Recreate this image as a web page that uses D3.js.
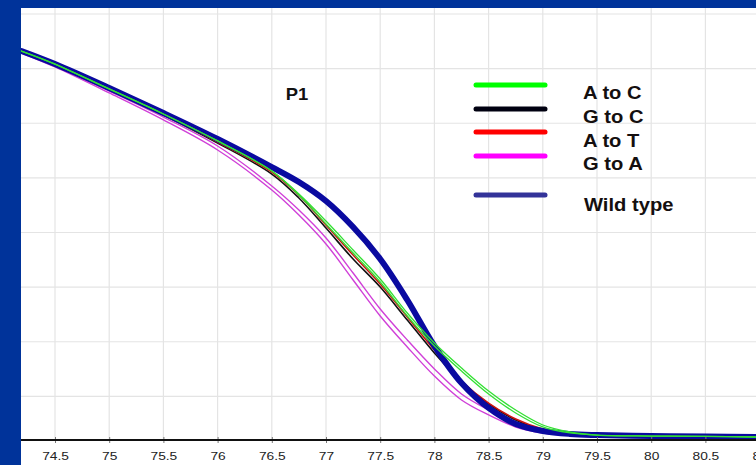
<!DOCTYPE html>
<html><head><meta charset="utf-8">
<script src="https://cdn.jsdelivr.net/npm/d3@7"></script>
<style>
html,body{margin:0;padding:0;background:#00339a;}
svg{display:block}
</style></head><body>
<svg id="c" width="756" height="465"></svg>
<script>
// Temperature (°C) sample points
const temps = [74.19, 74.5, 75, 75.5, 76, 76.5, 76.75, 77, 77.25, 77.5, 77.75, 78, 78.25, 78.5, 78.75, 79, 79.25, 79.5, 80, 80.5, 81];
// Fluorescence readings per series
const wildType = [36.61, 35.42, 33.23, 30.94, 28.56, 25.99, 24.62, 22.88, 20.50, 17.57, 13.82, 9.61, 6.22, 3.94, 2.47, 1.83, 1.56, 1.46, 1.37, 1.33, 1.28];
const aToC1   = [36.61, 35.42, 33.14, 30.85, 28.38, 25.63, 23.52, 21.05, 18.40, 15.74, 12.63, 9.89, 7.60, 5.49, 3.75, 2.38, 1.74, 1.46, 1.37, 1.33, 1.28];
const aToC2   = [36.61, 35.42, 33.14, 30.85, 28.38, 25.63, 23.43, 20.78, 18.12, 15.47, 12.36, 9.61, 7.32, 5.22, 3.48, 2.20, 1.65, 1.46, 1.37, 1.33, 1.28];
const gToC    = [36.61, 35.42, 33.14, 30.76, 28.19, 25.35, 23.16, 20.41, 17.57, 15.01, 11.99, 8.97, 6.32, 4.30, 2.84, 1.92, 1.56, 1.46, 1.37, 1.33, 1.28];
const aToT    = [36.61, 35.42, 33.23, 30.85, 28.29, 25.54, 23.43, 20.69, 17.94, 15.29, 12.27, 9.24, 6.41, 4.39, 2.93, 2.01, 1.56, 1.46, 1.37, 1.33, 1.28];
const gToA1   = [36.52, 35.24, 32.95, 30.57, 27.92, 24.26, 22.06, 19.50, 16.29, 13.00, 10.16, 7.51, 5.22, 3.75, 2.56, 1.83, 1.56, 1.42, 1.37, 1.33, 1.28];
const gToA2   = [36.43, 35.15, 32.77, 30.30, 27.55, 23.89, 21.60, 18.95, 15.65, 12.36, 9.52, 6.86, 4.67, 3.30, 2.20, 1.65, 1.46, 1.37, 1.33, 1.28, 1.28];

const xTicks = [74.5, 75, 75.5, 76, 76.5, 77, 77.5, 78, 78.5, 79, 79.5, 80, 80.5, 81];
const yGrid = [5, 10, 15, 20, 25, 30, 35, 40];

const legendLabels = ["A to C", "G to C", "A to T", "G to A", "Wild type"];
const legendColors = ["#00ff00", "#000010", "#ff0000", "#ff00ff", "#333399"];
const chartTitle = "P1";

const W = 756, H = 465;
const L = 21, T = 8, AX = 440;
const svg = d3.select('#c');
svg.append('rect').attr('width', W).attr('height', H).attr('fill', '#00339a');
svg.append('rect').attr('x', L).attr('y', T).attr('width', W - L).attr('height', H - T).attr('fill', '#fff');

const x = d3.scaleLinear().domain([74.5, 81]).range([55, 759.6]);
const y = d3.scaleLinear().domain([0, 40]).range([451, 14]);

svg.append('defs').append('clipPath').attr('id', 'clip')
  .append('rect').attr('x', L).attr('y', T).attr('width', W - L).attr('height', AX - T);

// grid
const grid = svg.append('g').attr('stroke', '#e4e4e4').attr('stroke-width', 1.2);
grid.selectAll('line.v').data(xTicks).join('line')
  .attr('x1', d => x(d)).attr('x2', d => x(d)).attr('y1', T).attr('y2', AX);
grid.selectAll('line.h').data(yGrid).join('line').attr('class', 'h')
  .attr('x1', L).attr('x2', W).attr('y1', d => y(d)).attr('y2', d => y(d));

// lines
const line = d3.line().x((d, i) => x(temps[i])).y(d => y(d)).curve(d3.curveCatmullRom.alpha(0.5));
const plot = svg.append('g').attr('clip-path', 'url(#clip)').attr('fill', 'none')
  .attr('stroke-linejoin', 'round').attr('stroke-linecap', 'round');
const series = [
  {v: gToA2, c: '#d040d8', w: 1.4},
  {v: gToA1, c: '#d040d8', w: 1.4},
  {v: gToC, c: '#111111', w: 1.6},
  {v: aToT, c: '#cc1111', w: 1.6},
  {v: wildType, c: '#0a0aa0', w: 6},
  {v: aToC1, c: '#33e033', w: 1.3},
  {v: aToC2, c: '#33e033', w: 1.3}
];
plot.selectAll('path').data(series).join('path')
  .attr('d', d => line(d.v)).attr('stroke', d => d.c).attr('stroke-width', d => d.w);

// axis
const axis = svg.append('g').attr('transform', `translate(0,${AX})`)
  .call(d3.axisBottom(x).tickValues(xTicks).tickSize(3).tickFormat(d3.format('')));
axis.select('.domain').remove();
axis.append('line').attr('x1', L).attr('x2', W).attr('stroke', '#111').attr('stroke-width', 2);
axis.selectAll('.tick line').attr('y1', -3).attr('y2', 3).attr('stroke', '#777');
axis.selectAll('.tick text')
  .attr('y', null).attr('dy', null)
  .attr('transform', 'translate(0,20) scale(1.25,1)')
  .attr('fill', '#222').attr('font-family', 'Liberation Sans, Arial, sans-serif').attr('font-size', 11);

// title
svg.append('text').attr('transform', 'translate(297,100) scale(1.15,1)')
  .attr('text-anchor', 'middle').attr('font-family', 'Liberation Sans, Arial, sans-serif')
  .attr('font-weight', 'bold').attr('font-size', 16).attr('fill', '#111').text(chartTitle);

// legend
const legY = [85, 109, 132, 156, 195];
const legTY = [99.3, 123, 146.5, 170, 210.5];
const leg = svg.append('g');
leg.selectAll('line').data(legendLabels).join('line')
  .attr('x1', 476).attr('x2', 545).attr('y1', (d, i) => legY[i]).attr('y2', (d, i) => legY[i])
  .attr('stroke', (d, i) => legendColors[i]).attr('stroke-width', 5).attr('stroke-linecap', 'round');
leg.selectAll('text').data(legendLabels).join('text')
  .attr('transform', (d, i) => `translate(${i === 4 ? 584 : 583},${legTY[i]}) scale(1.12,1)`)
  .attr('font-family', 'Liberation Sans, Arial, sans-serif').attr('font-weight', 'bold')
  .attr('font-size', 18).attr('fill', '#140f0f').text(d => d);
</script>
</body></html>
